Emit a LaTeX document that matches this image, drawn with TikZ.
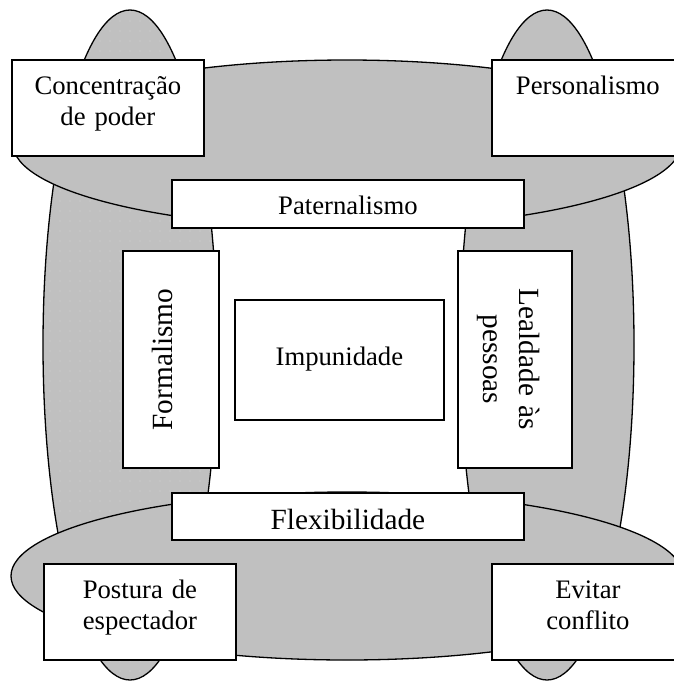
\documentclass[tikz,border=0pt]{standalone}
\usepackage{fontspec}
\setmainfont{Liberation Serif}
\usetikzlibrary{patterns.meta}
\definecolor{silver}{RGB}{192,192,192}
\definecolor{dotgray}{RGB}{210,210,210}
\newcommand{\normalbox}{\fontsize{26.7}{30.5}\selectfont}
\newcommand{\largebox}{\fontsize{29.3}{36}\selectfont}
\begin{document}
\begin{tikzpicture}[x=1pt,y=-1pt,
    blob/.style={fill=silver,draw=black,line width=1.3pt},
    box/.style={draw=black,fill=white,line width=1.8pt,inner sep=0pt,align=center,font=\normalbox},
    corner/.style={box,anchor=north west,text width=192pt,text height=35pt,text depth=61pt}]
  \clip (0,0) rectangle (674,681);
  % vertical ellipses
  \path[preaction={fill=silver},pattern={Dots[distance=10pt,radius=0.6pt]},pattern color=dotgray,
    draw=black,line width=1.3pt] (130,345) ellipse [x radius=87,y radius=335];
  \path[blob] (547,345) ellipse [x radius=87,y radius=335];
  % horizontal ellipses
  \path[blob] (347,144) ellipse [x radius=334,y radius=84];
  \path[blob] (347,576) ellipse [x radius=336,y radius=84];
  % corner boxes
  \path
    (11,59) node[corner] (poder) {Concentração\\de poder}
    (491,59) node[corner] (pessoal) {Personalismo}
    (43,563) node[corner] (espect) {Postura de\\espectador}
    (491,563) node[corner] (conflito) {Evitar\\conflito};
  % inner boxes
  \node[box,anchor=north west,text width=352pt,text height=35pt,text depth=13pt] (pater) at (171,179) {Paternalismo};
  \node[box,anchor=north west,text width=352pt,text height=37pt,text depth=10pt,font=\largebox] (flex) at (171,492) {Flexibilidade};
  \node[box,anchor=north west,text width=209pt,text height=66pt,text depth=54pt] (impun) at (234,299) {Impunidade};
  \node[box,rotate=90,text width=217pt,text height=49pt,text depth=47pt,font=\largebox] (formal) at (171,359.5) {Formalismo};
  \node[box,rotate=-90,text width=217pt,text height=53pt,text depth=61pt,font=\largebox] (lealdade) at (515,359.5) {Lealdade às\\pessoas};
\end{tikzpicture}
\end{document}
